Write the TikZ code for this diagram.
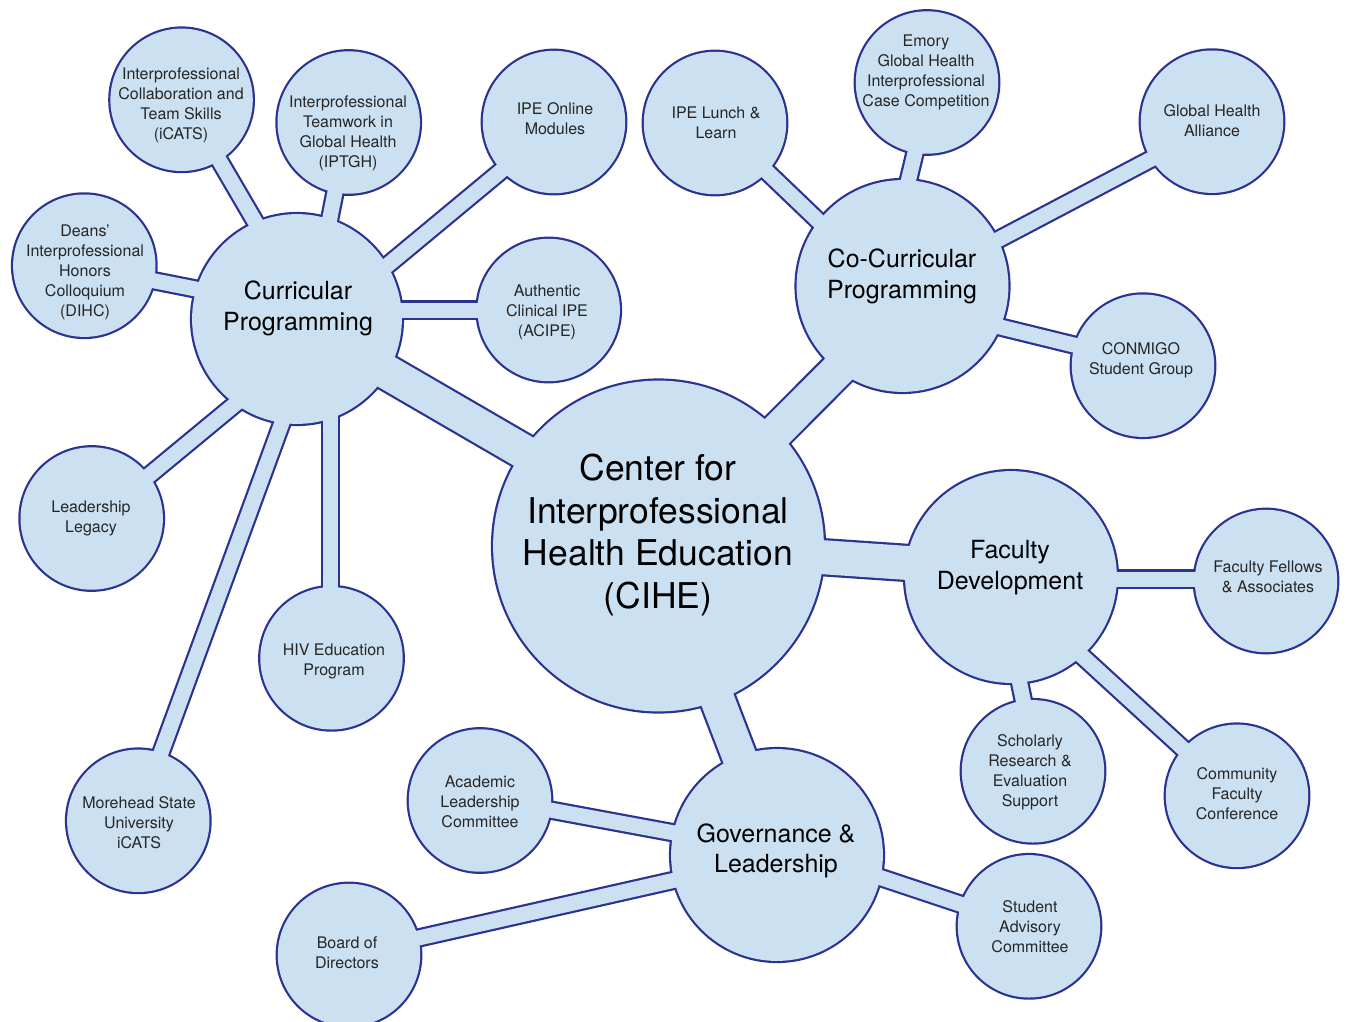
\documentclass[tikz,border=0pt]{standalone}
\usepackage{fontspec}
\setmainfont{TeX Gyre Heros}
\usetikzlibrary{calc}
\definecolor{bubble}{RGB}{203,225,242}
\definecolor{rim}{RGB}{44,50,145}
\definecolor{ink}{RGB}{38,38,38}
\begin{document}
\begin{tikzpicture}[x=1pt,y=-1pt,
  bigrim/.style={draw=rim,line width=38.4pt},
  bigfill/.style={draw=bubble,line width=34pt},
  smallrim/.style={draw=rim,line width=19.4pt},
  smallfill/.style={draw=bubble,line width=15pt},
  smalltext/.style={align=center,text=ink,inner sep=0pt,yshift=-2pt,font=\fontsize{16}{20}\selectfont},
  bigtext/.style={align=center,text=black,inner sep=0pt,yshift=-2.5pt,font=\fontsize{25}{30.5}\selectfont},
  hugetext/.style={align=center,text=black,inner sep=0pt,yshift=-3pt,font=\fontsize{35.5}{42.6}\selectfont}]
\useasboundingbox (0,0) rectangle (1346,1021);
\clip (0,0) rectangle (1346,1021);
% circle centres
\foreach \n/\x/\y in {cihe/658.5/546, cur/297/319, cocur/902.5/286, fac/1011/577, gov/777/855,
  icats/181.6/99.8, iptgh/348.7/122.5, online/554/122, acipe/548.7/310, dihc/84.3/265.7,
  legacy/91.7/518.5, hiv/331.5/658.3, morehead/138.3/820.8, lunch/715/123, emory/927/82.5,
  gha/1212/121.7, conmigo/1143/365.7, fellows/1266/581, scholarly/1033/771.3,
  community/1237/795.8, academic/480/800.5, board/349/955, sac/1029/926.3}
  {\coordinate (\n) at (\x,\y);}
% connector lists
\def\bigbands{cur/0/1/cihe/0/-16, cihe/0/4/cocur/0/19, cihe/0/0/fac/0/-7, cihe/0/0/gov/0/0}
\def\smallbands{cur/15/0/icats/2.4/0.2, cur/13/-1/iptgh/0.3/-0.5, cur/33/-6/online/0/5,
  cur/3/-9/acipe/0/0, cur/0/-10/dihc/0/1.3, cur/0/34/legacy/0/4.3, cur/33.5/0/hiv/-1/0,
  cur/23/0/morehead/-2.3/0.2, cocur/-22.5/-6/lunch/0/-1, cocur/-19.2/-1/emory/4.8/0.5,
  cocur/0/4/gha/0/5.3, cocur/0/17/conmigo/0/-3.7, fac/0/2/fellows/0/-2,
  fac/-13.3/0/scholarly/5/0, fac/0/14/community/0/2.2, gov/0/-3/academic/0/-3.5,
  gov/0/2/board/0/-1.3, gov/0/-12/sac/0/0.7}
\def\circles{cihe/166.5, cur/106, cocur/107, fac/107, gov/107,
  icats/72.3, iptgh/72.3, online/72.3, acipe/72.3, dihc/72.3, legacy/72.3, hiv/72.3,
  morehead/72.3, lunch/72.3, emory/72.3, gha/72.3, conmigo/72.3, fellows/72.3,
  scholarly/72.3, community/72.3, academic/72.3, board/72.3, sac/72.3}
% layer 1: dark connector bands
\foreach \a/\ax/\ay/\b/\bx/\by in \bigbands
  {\draw[bigrim] ($(\a)+(\ax,\ay)$) -- ($(\b)+(\bx,\by)$);}
\foreach \a/\ax/\ay/\b/\bx/\by in \smallbands
  {\draw[smallrim] ($(\a)+(\ax,\ay)$) -- ($(\b)+(\bx,\by)$);}
% layer 2: dark discs
\foreach \n/\r in \circles {\fill[rim] (\n) circle (\r+1.1);}
% layer 3: light connector bands
\foreach \a/\ax/\ay/\b/\bx/\by in \bigbands
  {\draw[bigfill] ($(\a)+(\ax,\ay)$) -- ($(\b)+(\bx,\by)$);}
\foreach \a/\ax/\ay/\b/\bx/\by in \smallbands
  {\draw[smallfill] ($(\a)+(\ax,\ay)$) -- ($(\b)+(\bx,\by)$);}
% layer 4: light discs
\foreach \n/\r in \circles {\fill[bubble] (\n) circle (\r-1.1);}
% labels
\node[hugetext] (t-cihe) at (658,532) {Center for\\Interprofessional\\Health Education\\(CIHE)};
\node[bigtext] (t-cur) at (298,306) {Curricular\\Programming};
\node[bigtext] (t-cocur) at (902,274) {Co-Curricular\\Programming};
\node[bigtext] (t-fac) at (1010,565) {Faculty\\Development};
\node[bigtext] (t-gov) at (776,848.5) {Governance \&\\Leadership};
\node[smalltext] (t-icats) at (181,103) {Interprofessional\\Collaboration and\\Team Skills\\(iCATS)};
\node[smalltext] (t-iptgh) at (348,131) {Interprofessional\\Teamwork in\\Global Health\\(IPTGH)};
\node[smalltext] (t-online) at (555,117) {IPE Online\\Modules};
\node[smalltext] (t-acipe) at (547,310) {Authentic\\Clinical IPE\\(ACIPE)};
\node[smalltext] (t-dihc) at (85,270.5) {Deans’\\Interprofessional\\Honors\\Colloquium\\(DIHC)};
\node[smalltext] (t-legacy) at (91,516) {Leadership\\Legacy};
\node[smalltext] (t-hiv) at (334,659.5) {HIV Education\\Program};
\node[smalltext] (t-morehead) at (139,821) {Morehead State\\University\\iCATS};
\node[smalltext] (t-lunch) at (716,121) {IPE Lunch \&\\Learn};
\node[smalltext] (t-emory) at (926,70.5) {Emory\\Global Health\\Interprofessional\\Case Competition};
\node[smalltext] (t-gha) at (1212,119) {Global Health\\Alliance};
\node[smalltext] (t-conmigo) at (1141,358) {CONMIGO\\Student Group};
\node[smalltext] (t-fellows) at (1268,575) {Faculty Fellows\\\& Associates};
\node[smalltext] (t-scholarly) at (1030,770) {Scholarly\\Research \&\\Evaluation\\Support};
\node[smalltext] (t-community) at (1237,792) {Community\\Faculty\\Conference};
\node[smalltext] (t-academic) at (480,800) {Academic\\Leadership\\Committee};
\node[smalltext] (t-board) at (347,951) {Board of\\Directors};
\node[smalltext] (t-sac) at (1030,924.5) {Student\\Advisory\\Committee};
\end{tikzpicture}
\end{document}
